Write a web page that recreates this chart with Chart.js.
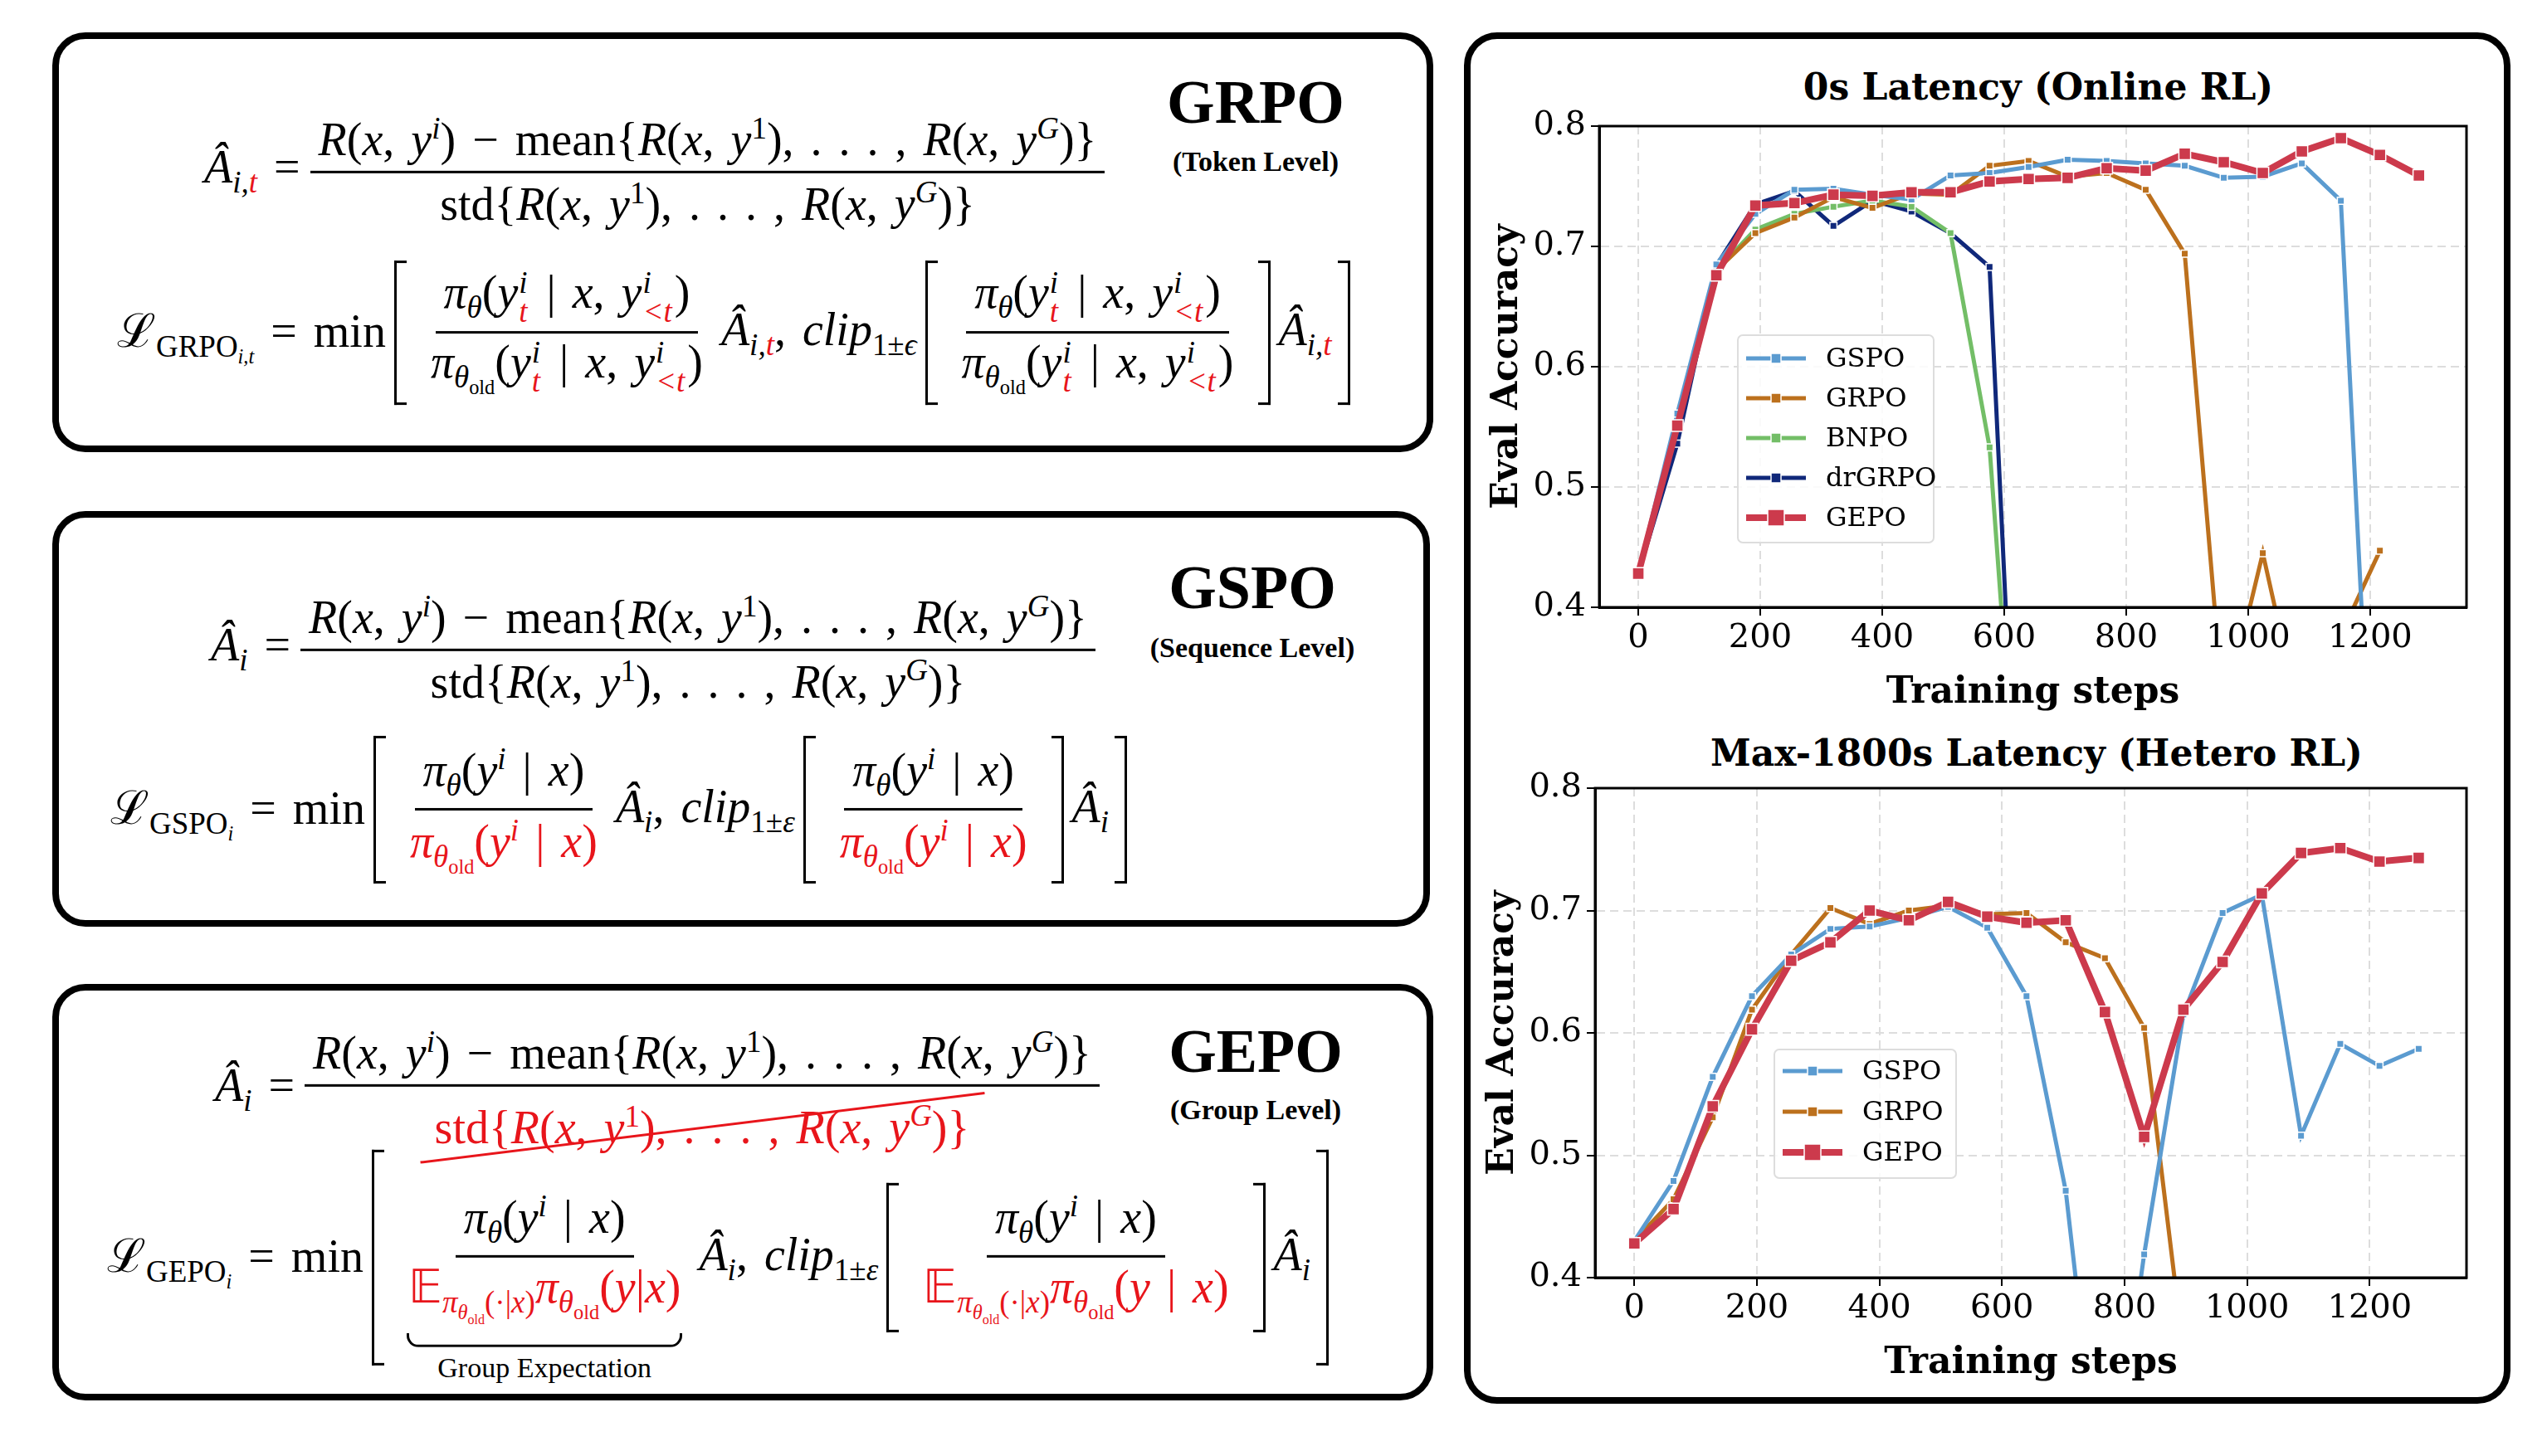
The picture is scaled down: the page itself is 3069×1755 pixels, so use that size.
<!DOCTYPE html>
<html>
<head>
<meta charset="utf-8">
<script src="https://cdn.jsdelivr.net/npm/chart.js@4.4.0/dist/chart.umd.min.js"></script>
<style>
body { margin: 0; width: 3069px; height: 1755px; background: #fff; position: relative; overflow: hidden; }
.box { position: absolute; border: 8px solid #000; border-radius: 40px; box-sizing: border-box; }
.m { position: absolute; font-family: 'Liberation Serif', serif; font-size: 56px; display: inline-flex; align-items: center; white-space: nowrap; transform: translateY(-50%); word-spacing: 6px; }
.frac { display: inline-flex; flex-direction: column; align-items: center; margin: 0 12px; }
.frac > span { padding: 2px 10px; white-space: nowrap; }
.frac > span:first-child { border-bottom: 3px solid #000; padding-bottom: 6px; }
.r { color: #e8151b; }
.ss { display: inline-flex; flex-direction: column; font-size: 0.66em; line-height: 0.95; vertical-align: middle; margin: 0 3px 0 1px; }
sub, sup { font-size: 0.66em; }
.brk { display: inline-flex; align-items: center; position: relative; padding: 0 22px; margin: 0 10px; }
.brk::before, .brk::after { content: ''; position: absolute; top: -4px; bottom: -4px; width: 12px; border: 3px solid #000; }
.brk::before { left: 0; border-right: none; }
.brk::after { right: 0; border-left: none; }
.big::before, .big::after { top: -44px; bottom: -44px; }
.ttl { position: absolute; font-family: 'Liberation Serif', serif; font-weight: bold; transform: translate(-50%, -50%); white-space: nowrap; }
.ctitle { position: absolute; font-family: 'DejaVu Serif', serif; font-weight: bold; font-size: 44px; transform: translate(-50%, -50%); white-space: nowrap; }
.ub { position: absolute; left: 8px; right: 8px; bottom: -22px; height: 14px; border: 3px solid #000; border-top: none; border-radius: 0 0 14px 14px; }
.ubl { position: absolute; left: 50%; bottom: -66px; transform: translateX(-50%); font-size: 34px; word-spacing: 0; }
canvas { position: absolute; }
</style>
</head>
<body>

<!-- GRPO box -->
<div class="box" style="left:63px;top:39px;width:1664px;height:506px;">
  <div class="ttl" style="left:1442px;top:76px;font-size:74px;">GRPO</div>
  <div class="ttl" style="left:1442px;top:148px;font-size:34px;">(Token Level)</div>
  <div class="m" style="left:175px;top:158px;">
    <span><i>Â</i><sub><i>i,</i><i class="r">t</i></sub>&nbsp;=</span>
    <span class="frac"><span><i>R</i>(<i>x</i>, <i>y<sup>i</sup></i>) − mean{<i>R</i>(<i>x</i>, <i>y</i><sup>1</sup>), . . . , <i>R</i>(<i>x</i>, <i>y<sup>G</sup></i>)}</span><span>std{<i>R</i>(<i>x</i>, <i>y</i><sup>1</sup>), . . . , <i>R</i>(<i>x</i>, <i>y<sup>G</sup></i>)}</span></span>
  </div>
  <div class="m" style="left:70px;top:354px;">
    <span>ℒ<sub>GRPO<sub><i>i,t</i></sub></sub>&nbsp;= min</span>
    <span class="brk">
      <span class="frac"><span><i>π<sub>θ</sub></i>(<i>y</i><span class="ss"><i>i</i><i class="r">t</i></span> | <i>x</i>, <i>y</i><span class="ss"><i>i</i><i class="r">&lt;t</i></span>)</span><span><i>π</i><sub><i>θ</i><sub>old</sub></sub>(<i>y</i><span class="ss"><i>i</i><i class="r">t</i></span> | <i>x</i>, <i>y</i><span class="ss"><i>i</i><i class="r">&lt;t</i></span>)</span></span>
      <span><i>Â</i><sub><i>i,</i><i class="r">t</i></sub>, <i>clip</i><sub>1±<i>ϵ</i></sub></span>
      <span class="brk"><span class="frac"><span><i>π<sub>θ</sub></i>(<i>y</i><span class="ss"><i>i</i><i class="r">t</i></span> | <i>x</i>, <i>y</i><span class="ss"><i>i</i><i class="r">&lt;t</i></span>)</span><span><i>π</i><sub><i>θ</i><sub>old</sub></sub>(<i>y</i><span class="ss"><i>i</i><i class="r">t</i></span> | <i>x</i>, <i>y</i><span class="ss"><i>i</i><i class="r">&lt;t</i></span>)</span></span></span>
      <span><i>Â</i><sub><i>i,</i><i class="r">t</i></sub></span>
    </span>
  </div>
</div>

<!-- GSPO box -->
<div class="box" style="left:63px;top:616px;width:1660px;height:501px;">
  <div class="ttl" style="left:1438px;top:84px;font-size:74px;">GSPO</div>
  <div class="ttl" style="left:1438px;top:157px;font-size:34px;">(Sequence Level)</div>
  <div class="m" style="left:183px;top:157px;">
    <span><i>Â<sub>i</sub></i>&nbsp;=</span>
    <span class="frac"><span><i>R</i>(<i>x</i>, <i>y<sup>i</sup></i>) − mean{<i>R</i>(<i>x</i>, <i>y</i><sup>1</sup>), . . . , <i>R</i>(<i>x</i>, <i>y<sup>G</sup></i>)}</span><span>std{<i>R</i>(<i>x</i>, <i>y</i><sup>1</sup>), . . . , <i>R</i>(<i>x</i>, <i>y<sup>G</sup></i>)}</span></span>
  </div>
  <div class="m" style="left:62px;top:352px;">
    <span>ℒ<sub>GSPO<sub><i>i</i></sub></sub>&nbsp;= min</span>
    <span class="brk">
      <span class="frac"><span><i>π<sub>θ</sub></i>(<i>y<sup>i</sup></i> | <i>x</i>)</span><span class="r"><i>π</i><sub><i>θ</i><sub>old</sub></sub>(<i>y<sup>i</sup></i> | <i>x</i>)</span></span>
      <span><i>Â<sub>i</sub></i>, <i>clip</i><sub>1±<i>ε</i></sub></span>
      <span class="brk"><span class="frac"><span><i>π<sub>θ</sub></i>(<i>y<sup>i</sup></i> | <i>x</i>)</span><span class="r"><i>π</i><sub><i>θ</i><sub>old</sub></sub>(<i>y<sup>i</sup></i> | <i>x</i>)</span></span></span>
      <span><i>Â<sub>i</sub></i></span>
    </span>
  </div>
</div>

<!-- GEPO box -->
<div class="box" style="left:63px;top:1186px;width:1664px;height:502px;">
  <div class="ttl" style="left:1442px;top:73px;font-size:74px;">GEPO</div>
  <div class="ttl" style="left:1442px;top:144px;font-size:34px;">(Group Level)</div>
  <div class="m" style="left:188px;top:118px;">
    <span><i>Â<sub>i</sub></i>&nbsp;=</span>
    <span class="frac"><span><i>R</i>(<i>x</i>, <i>y<sup>i</sup></i>) − mean{<i>R</i>(<i>x</i>, <i>y</i><sup>1</sup>), . . . , <i>R</i>(<i>x</i>, <i>y<sup>G</sup></i>)}</span><span class="r" style="padding-top:14px;position:relative;">std{<i>R</i>(<i>x</i>, <i>y</i><sup>1</sup>), . . . , <i>R</i>(<i>x</i>, <i>y<sup>G</sup></i>)}<span style="position:absolute;left:-10px;right:-10px;top:58%;height:3px;background:#e8151b;transform:rotate(-7deg);"></span></span></span>
  </div>
  <div class="m" style="left:58px;top:322px;">
    <span>ℒ<sub>GEPO<sub><i>i</i></sub></sub>&nbsp;= min</span>
    <span class="brk big">
      <span class="frac" style="position:relative;"><span><i>π<sub>θ</sub></i>(<i>y<sup>i</sup></i> | <i>x</i>)</span><span class="r" style="position:relative;">𝔼<sub><i>π</i><sub><i>θ</i><sub>old</sub></sub>(·|<i>x</i>)</sub><i>π</i><sub><i>θ</i><sub>old</sub></sub>(<i>y</i>|<i>x</i>)<span class="ub"></span><span class="ubl" style="color:#000;font-family:'Liberation Serif',serif;">Group Expectation</span></span></span>
      <span><i>Â<sub>i</sub></i>, <i>clip</i><sub>1±<i>ε</i></sub></span>
      <span class="brk"><span class="frac"><span><i>π<sub>θ</sub></i>(<i>y<sup>i</sup></i> | <i>x</i>)</span><span class="r">𝔼<sub><i>π</i><sub><i>θ</i><sub>old</sub></sub>(·|<i>x</i>)</sub><i>π</i><sub><i>θ</i><sub>old</sub></sub>(<i>y</i> | <i>x</i>)</span></span></span>
      <span><i>Â<sub>i</sub></i></span>
    </span>
  </div>
</div>

<!-- charts box -->
<div class="box" style="left:1764px;top:39px;width:1261px;height:1653px;"></div>
<div class="ctitle" style="left:2456px;top:104px;">0s Latency (Online RL)</div>
<div class="ctitle" style="left:2454px;top:907px;">Max-1800s Latency (Hetero RL)</div>
<canvas id="top_x" style="left:1790px;top:122px;width:1215px;height:740px;"></canvas>
<canvas id="bot_x" style="left:1785px;top:920px;width:1220px;height:750px;"></canvas>

<script>
// training steps, one point every 64 steps
const steps = [0, 64, 128, 192, 256, 320, 384, 448, 512, 576, 640, 704, 768, 832, 896, 960, 1024, 1088, 1152, 1216, 1280];
const xTicks = [0, 200, 400, 600, 800, 1000, 1200];
const yTicks = [0.4, 0.5, 0.6, 0.7, 0.8];

// 0s latency (online RL)
const onGSPO = [0.428, 0.561, 0.685, 0.727, 0.747, 0.748, 0.743, 0.739, 0.759, 0.761, 0.766, 0.772, 0.771, 0.769, 0.767, 0.757, 0.758, 0.769, 0.738, 0.10];
const onGRPO = [0.428, 0.550, 0.680, 0.711, 0.724, 0.741, 0.732, 0.744, 0.743, 0.767, 0.771, 0.758, 0.761, 0.747, 0.694, 0.31, 0.445, 0.30, 0.377, 0.447];
const onBNPO = [0.428, 0.550, 0.680, 0.714, 0.727, 0.733, 0.738, 0.733, 0.711, 0.533, 0.09];
const onDrGRPO = [0.428, 0.536, 0.684, 0.735, 0.746, 0.717, 0.738, 0.729, 0.711, 0.683, 0.0];
const onGEPO = [0.428, 0.551, 0.676, 0.734, 0.736, 0.743, 0.742, 0.745, 0.745, 0.754, 0.756, 0.757, 0.765, 0.763, 0.777, 0.770, 0.761, 0.779, 0.790, 0.776, 0.759];

// max-1800s latency (hetero RL)
const hetGSPO = [0.430, 0.479, 0.564, 0.630, 0.664, 0.685, 0.687, 0.694, 0.703, 0.686, 0.630, 0.471, 0.19, 0.419, 0.615, 0.698, 0.713, 0.516, 0.591, 0.573, 0.587];
const hetGRPO = [0.430, 0.464, 0.531, 0.619, 0.664, 0.702, 0.689, 0.700, 0.704, 0.697, 0.698, 0.674, 0.661, 0.604, 0.34];
const hetGEPO = [0.428, 0.456, 0.540, 0.603, 0.659, 0.674, 0.700, 0.692, 0.707, 0.695, 0.690, 0.692, 0.617, 0.515, 0.619, 0.658, 0.714, 0.747, 0.751, 0.740, 0.743];

const colors = { GSPO: '#5b9bd0', GRPO: '#bc701d', BNPO: '#73be67', drGRPO: '#10287a', GEPO: '#cc3a4c' };

function series(label, vals) {
    let big = label === 'GEPO';
    return {
        label: label,
        data: vals.map((v, i) => ({ x: steps[i], y: v })),
        borderColor: colors[label],
        backgroundColor: colors[label],
        borderWidth: big ? 8 : 5,
        pointStyle: 'rect',
        pointRadius: big ? 10 : 6,
        pointBorderColor: '#fff',
        pointBorderWidth: 1.5,
        pointBackgroundColor: colors[label],
        tension: 0,
        order: big ? 0 : 1,
    };
}

// top/right spines + legend inside plot
const framePlugin = {
    id: 'frame',
    afterDraw(chart, args, opts) {
        const ctx = chart.ctx, a = chart.chartArea;
        ctx.save();
        ctx.strokeStyle = '#000';
        ctx.lineWidth = 3;
        ctx.strokeRect(a.left, a.top, a.right - a.left, a.bottom - a.top);
        // legend
        let lx = a.left + opts.dx, ly = a.top + opts.dy;
        ctx.fillStyle = 'rgba(255,255,255,0.85)';
        ctx.strokeStyle = '#dddddd';
        ctx.lineWidth = 2;
        ctx.beginPath();
        ctx.roundRect(lx, ly, opts.w, opts.h, 6);
        ctx.fill();
        ctx.stroke();
        chart.data.datasets.forEach((ds, i) => {
            let y = ly + opts.first + i * opts.gap;
            let big = ds.label === 'GEPO';
            ctx.strokeStyle = ds.borderColor;
            ctx.lineWidth = big ? 8 : 5;
            ctx.beginPath();
            ctx.moveTo(lx + 10, y);
            ctx.lineTo(lx + 82, y);
            ctx.stroke();
            let s = big ? 20 : 12;
            ctx.fillStyle = ds.borderColor;
            ctx.fillRect(lx + 46 - s / 2, y - s / 2, s, s);
            ctx.strokeStyle = '#fff';
            ctx.lineWidth = 1.5;
            ctx.strokeRect(lx + 46 - s / 2, y - s / 2, s, s);
            ctx.fillStyle = '#000';
            ctx.font = '32px "DejaVu Serif"';
            ctx.textBaseline = 'middle';
            ctx.fillText(ds.label, lx + 106, y + 2);
        });
        ctx.restore();
    }
};

function makeChart(id, datasets, legendOpts) {
    const tickFont = { family: 'DejaVu Serif', size: 40 };
    const titleFont = { family: 'DejaVu Serif', size: 44, weight: 'bold' };
    return new Chart(document.getElementById(id).getContext('2d'), {
        type: 'line',
        data: { datasets: datasets },
        plugins: [framePlugin],
        options: {
            responsive: false,
            animation: false,
            devicePixelRatio: 1,
            layout: { padding: { top: 0, right: 33, left: 0, bottom: 0 } },
            plugins: { legend: { display: false }, tooltip: { enabled: false }, frame: legendOpts },
            scales: {
                x: {
                    type: 'linear', min: -64, max: 1358,
                    afterBuildTicks: s => { s.ticks = xTicks.map(v => ({ value: v })); },
                    afterFit: s => { s.height = 130; },
                    ticks: { font: tickFont, color: '#000', padding: 4, maxRotation: 0, callback: v => String(v) },
                    grid: { color: '#dddddd', lineWidth: 2, tickLength: 10, tickColor: '#000', tickWidth: 2 },
                    border: { display: true, color: '#000', width: 3, dash: [10, 6] },
                    title: { display: true, text: 'Training steps', font: titleFont, color: '#000', padding: 0 },
                },
                y: {
                    min: 0.4, max: 0.8,
                    afterBuildTicks: s => { s.ticks = yTicks.map(v => ({ value: v })); },
                    afterFit: s => { s.width = 137; },
                    ticks: { font: tickFont, color: '#000', padding: 6, callback: v => v.toFixed(1) },
                    grid: { color: '#dddddd', lineWidth: 2, tickLength: 10, tickColor: '#000', tickWidth: 2 },
                    border: { display: true, color: '#000', width: 3, dash: [10, 6] },
                    title: { display: true, text: 'Eval Accuracy', font: titleFont, color: '#000', padding: 0 },
                },
            },
        },
    });
}

const topCanvas = document.getElementById('top_x');
topCanvas.width = 1215; topCanvas.height = 740;
const botCanvas = document.getElementById('bot_x');
botCanvas.width = 1220; botCanvas.height = 750;

makeChart('top_x', [
    series('GSPO', onGSPO),
    series('GRPO', onGRPO),
    series('BNPO', onBNPO),
    series('drGRPO', onDrGRPO),
    series('GEPO', onGEPO),
], { dx: 167, dy: 252, w: 236, h: 250, first: 28, gap: 48 });

makeChart('bot_x', [
    series('GSPO', hetGSPO),
    series('GRPO', hetGRPO),
    series('GEPO', hetGEPO),
], { dx: 216, dy: 315, w: 219, h: 155, first: 26, gap: 49 });
</script>
</body>
</html>
